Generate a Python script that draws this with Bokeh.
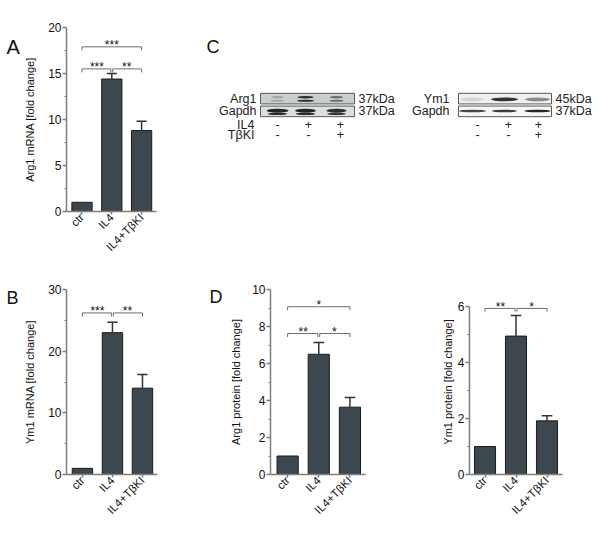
import numpy as np
from bokeh.plotting import figure
from bokeh.layouts import row, column
from bokeh.models import Range1d, FixedTicker, Label
from bokeh.embed import file_html
from bokeh.resources import INLINE
from bokeh.core.properties import value

# ---------------- data ----------------
groups = ["ctr", "IL4", "IL4+TβKI"]

arg1_mrna = [1.0, 14.4, 8.8]
arg1_mrna_err = [0.0, 0.6, 1.0]
arg1_mrna_sig = [(0, 1, 15.5, "***"), (1, 2, 15.5, "**"), (0, 2, 17.9, "***")]

ym1_mrna = [1.0, 23.0, 14.0]
ym1_mrna_err = [0.0, 1.7, 2.2]
ym1_mrna_sig = [(0, 1, 26.2, "***"), (1, 2, 26.2, "**")]

arg1_prot = [1.0, 6.5, 3.64]
arg1_prot_err = [0.0, 0.63, 0.52]
arg1_prot_sig = [(0, 1, 7.62, "**"), (1, 2, 7.62, "*"), (0, 2, 9.07, "*")]

ym1_prot = [1.0, 4.95, 1.92]
ym1_prot_err = [0.0, 0.74, 0.18]
ym1_prot_sig = [(0, 1, 5.94, "**"), (1, 2, 5.94, "*")]

# western blot (panel C): band intensities per lane (0..1)
il4_signs = ["-", "+", "+"]
tbki_signs = ["-", "-", "+"]
arg1_band = [0.25, 1.0, 0.6]
gapdh_left_band = [1.0, 1.0, 0.95]
ym1_band = [0.12, 0.95, 0.5]
gapdh_right_band = [0.85, 0.9, 1.0]

FONT = "Liberation Sans"
BAR = "#3d474e"
AX = "#7d7d7d"


def bar_panel(width, height, mb, x_start, yend, yticks, yminor, means, errs, sigs,
              ylabel, standoff, ytop=None):
    ytop = yend if ytop is None else ytop
    p = figure(width=width, height=height, x_range=Range1d(x_start, 2.5),
               y_range=Range1d(0, ytop), output_backend="svg", toolbar_location=None,
               min_border_left=mb[0], min_border_right=mb[1], min_border_top=mb[2],
               min_border_bottom=mb[3])
    p.xgrid.visible = False
    p.ygrid.visible = False
    p.outline_line_color = None
    p.background_fill_color = "white"
    p.border_fill_color = "white"
    x = [0, 1, 2]
    p.vbar(x=x, top=means, bottom=0, width=0.68, fill_color=BAR, line_color="#1c1c1c", line_width=1)
    idx = [i for i in range(3) if errs[i] > 0]
    ex = [x[i] for i in idx]
    ey0 = [means[i] for i in idx]
    ey1 = [means[i] + errs[i] for i in idx]
    p.segment(x0=ex, y0=ey0, x1=ex, y1=ey1, line_color="#333333", line_width=1.5)
    p.segment(x0=[v - 0.17 for v in ex], y0=ey1, x1=[v + 0.17 for v in ex], y1=ey1,
              line_color="#333333", line_width=1.5)
    drop = yend * 0.019
    for a, b, y, s in sigs:
        xa = a + (0.03 if a == 1 else 0.0)
        xb = b - (0.03 if b == 1 else 0.0)
        p.line([xa, xa, xb, xb], [y - drop, y, y, y - drop], line_color="#6e6e6e", line_width=1)
        p.add_layout(Label(x=(a + b) / 2, y=y, y_offset=1.5, text=s, text_align="center",
                           text_baseline="alphabetic", text_font_size="12px", text_font=FONT,
                           text_color="#111111"))
    # axes
    p.yaxis.ticker = FixedTicker(ticks=yticks, minor_ticks=yminor)
    p.yaxis.bounds = (0, yend)
    p.yaxis.axis_label = ylabel
    p.yaxis.axis_label_text_font = FONT
    p.yaxis.axis_label_text_font_size = "11px"
    p.yaxis.axis_label_text_font_style = "normal"
    p.yaxis.axis_label_text_color = "#111111"
    p.yaxis.axis_label_standoff = standoff
    p.xaxis.ticker = FixedTicker(ticks=[0, 1, 2], minor_ticks=[])
    p.xaxis.major_label_overrides = {0: groups[0], 1: groups[1], 2: groups[2]}
    p.xaxis.major_label_orientation = np.pi / 4
    p.xaxis.major_label_text_font_size = "11.5px"
    p.yaxis.major_label_text_font_size = "12px"
    p.yaxis.major_label_standoff = 1
    p.xaxis.major_label_standoff = 1
    for ax in (p.xaxis, p.yaxis):
        ax.major_label_text_font = FONT
        ax.major_label_text_color = "#111111"
        ax.axis_line_color = AX
        ax.axis_line_width = 1.5
        ax.major_tick_line_color = AX
        ax.major_tick_line_width = 1.5
        ax.major_tick_in = 0
        ax.major_tick_out = 4
        ax.minor_tick_line_color = AX
        ax.minor_tick_in = 0
        ax.minor_tick_out = 2
    p.xaxis.major_tick_out = 3
    return p


def letter_fig(width, height, letter, x, y, size):
    f = figure(width=width, height=height, x_range=Range1d(0, width), y_range=Range1d(height, 0),
               output_backend="svg", toolbar_location=None, x_axis_location=None,
               y_axis_location=None, min_border=0)
    f.xgrid.visible = False
    f.ygrid.visible = False
    f.outline_line_color = None
    f.text(x=[x], y=[y], text=[letter], text_align="left", text_baseline="alphabetic",
           text_font=value(FONT), text_font_size=size, text_color="#111111")
    return f


# ---- top row (height 260) ----
lA = letter_fig(21, 260, "A", 6, 27, "20px")
pA = bar_panel(177, 260, (41, 42, 27, 47), -0.52, 20, [0, 5, 10, 15, 20], [2.5, 7.5, 12.5, 17.5],
               arg1_mrna, arg1_mrna_err, arg1_mrna_sig, "Arg1 mRNA [fold change]", 9)

# Panel C: western blots drawn in page pixel coordinates
pC = figure(width=402, height=260, x_range=Range1d(198, 600), y_range=Range1d(260, 0),
            output_backend="svg", toolbar_location=None, x_axis_location=None,
            y_axis_location=None, min_border=0)
pC.xgrid.visible = False
pC.ygrid.visible = False
pC.outline_line_color = None

lanes_left = np.array([277, 305, 336])
lanes_right = np.array([472, 504, 537])
lane_sign_left = [277, 308, 340]
lane_sign_right = [477, 508, 538]

pC.quad(left=[260, 260, 458, 458], right=[354, 354, 551, 551], top=[93, 111, 93, 111],
        bottom=[108, 126, 108, 126], fill_color=["#c9cfcb", "#dde0dc", "#efefef", "#f6f6f6"],
        line_color="#5a5a5a", line_width=1)


def bands(xs, yc, w, h, inten, color):
    a = np.array(inten)
    pC.ellipse(x=xs, y=[yc] * 3, width=w, height=h, fill_color=color,
               fill_alpha=list(a * 0.9), line_color=None)


bands(lanes_left, 98.5, [12, 16, 13], 3.5, arg1_band, "#1a1d1c")
bands(lanes_left, 103.5, [14, 17, 14], 3.0, arg1_band, "#1a1d1c")
bands(lanes_left, 117.5, [22, 21, 20], 5.5, gapdh_left_band, "#101211")
bands(lanes_left, 122.0, [20, 20, 19], 3.5, gapdh_left_band, "#151716")
bands(lanes_right, 101.5, [24, 27, 25], 5.5, ym1_band, "#141414")
bands(lanes_right, 118.0, [27, 25, 26], 3.8, gapdh_right_band, "#111111")

txt = dict(text_font=value(FONT), text_font_size="12.5px", text_color="#222222")
pC.text(x=[256, 256], y=[100.5, 118.5], text=["Arg1", "Gapdh"], text_align="right",
        text_baseline="middle", **txt)
pC.text(x=[449, 449], y=[100.5, 118.5], text=["Ym1", "Gapdh"], text_align="right",
        text_baseline="middle", **txt)
pC.text(x=[358, 358, 555, 555], y=[100.5, 118.5, 100.5, 118.5],
        text=["37kDa", "37kDa", "45kDa", "37kDa"], text_align="left", text_baseline="middle", **txt)
pC.text(x=[254, 254], y=[137.5, 151.5], text=["IL4", "TβKI"], text_align="right",
        text_baseline="middle", **txt)
pC.text(x=lane_sign_left + lane_sign_right, y=[137.5] * 6, text=il4_signs + il4_signs,
        text_align="center", text_baseline="middle", **txt)
pC.text(x=lane_sign_left + lane_sign_right, y=[151.5] * 6, text=tbki_signs + tbki_signs,
        text_align="center", text_baseline="middle", **txt)
pC.text(x=[206], y=[27], text=["C"], text_align="left", text_baseline="alphabetic",
        text_font=value(FONT), text_font_size="18px", text_color="#111111")

# ---- bottom row (height 279) ----
lB = letter_fig(21, 279, "B", 6, 13, "18px")
pB = bar_panel(182, 279, (41, 46, 29, 65), -0.53, 30, [0, 10, 20, 30], [5, 15, 25],
               ym1_mrna, ym1_mrna_err, ym1_mrna_sig, "Ym1 mRNA [fold change]", 9)
lD = letter_fig(19, 279, "D", 6, 12, "18px")
pD1 = bar_panel(198, 279, (48, 55, 29, 64), -0.55, 10, [0, 2, 4, 6, 8, 10], [1, 3, 5, 7, 9],
                arg1_prot, arg1_prot_err, arg1_prot_sig, "Arg1 protein [fold change]", 7)
pD2 = bar_panel(180, 279, (49, 38, 10, 65), -0.5, 6, [0, 2, 4, 6], [1, 3, 5],
                ym1_prot, ym1_prot_err, ym1_prot_sig, "Ym1 protein [fold change]", 1,
                ytop=6 + 19 / 30.83)

layout = column(row(lA, pA, pC), row(lB, pB, lD, pD1, pD2))
open("out.html", "w").write(file_html(layout, INLINE))
